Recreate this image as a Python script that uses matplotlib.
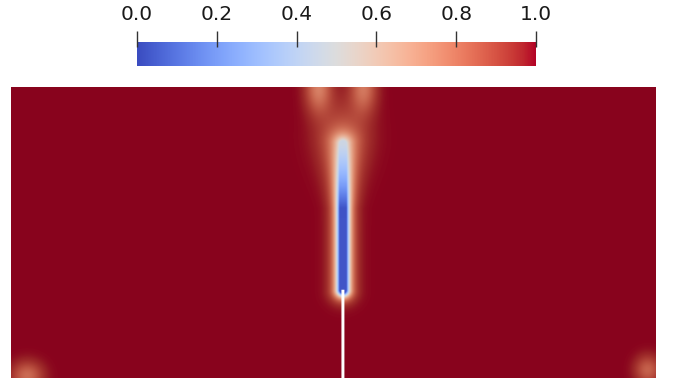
import numpy as np
import matplotlib
matplotlib.use("Agg")
import matplotlib.pyplot as plt

# ------------------------- dados -------------------------
# dominio (largura x altura), unidades arbitrarias
W, H = 2.213, 1.0
PX = H / 291.0          # tamanho de 1 pixel da figura original

# trinca: posicao x, topo do entalhe, topo da banda de dano
crack_x = 331.5 * PX
notch_top = 88 * PX
crack_top = 234 * PX
notch_half = 1.5 * PX
core_half = 3.5 * PX
band_len = 4.5 * PX
band_len_tip = 8.0 * PX
core_damage = 0.98
tip_damage = 0.45       # dano na ponta superior da banda
ramp_start = 170 * PX

# manchas fracas (x, y, sx, sy, amplitude)
blob_x = [331 * PX - 24 * PX, 331 * PX + 21 * PX, 331 * PX, 16 * PX, 636 * PX]
blob_y = [H, H, 245 * PX, 2 * PX, 8 * PX]
blob_sx = [9 * PX, 9 * PX, 18 * PX, 11 * PX, 9 * PX]
blob_sy = [18 * PX, 18 * PX, 26 * PX, 10 * PX, 10 * PX]
blob_amp = [0.22, 0.20, 0.10, 0.18, 0.16]

# barra de cores
cbar_ticks = [0.0, 0.2, 0.4, 0.6, 0.8, 1.0]
cbar_labels = ["0.0", "0.2", "0.4", "0.6", "0.8", "1.0"]
# ---------------------------------------------------------

nx, ny = 1300, 600
xx, yy = np.meshgrid(np.linspace(0, W, nx), np.linspace(0, H, ny))

# distancia ate o segmento da trinca
dy = np.where(yy < notch_top, notch_top - yy, np.where(yy > crack_top, yy - crack_top, 0.0))
r = np.sqrt((xx - crack_x) ** 2 + dy ** 2)
yc = np.clip(yy, notch_top, crack_top)
ramp = np.clip((yc - ramp_start) / (crack_top - ramp_start), 0, 1)
amp = core_damage - (core_damage - tip_damage) * ramp
blen = band_len + (band_len_tip - band_len) * ramp
damage = amp * np.exp(-np.maximum(r - core_half, 0) / blen)

for bx, by, sx, sy, a in zip(blob_x, blob_y, blob_sx, blob_sy, blob_amp):
    damage = damage + a * np.exp(-((xx - bx) / sx) ** 2 / 2 - ((yy - by) / sy) ** 2 / 2)

field = np.clip(1.0 - damage, 0, 1)

cmap = plt.get_cmap("coolwarm")
rgb = cmap(field)[..., :3]
# escurecimento do vermelho como no render original
shade = 1.0 - 0.24 * field ** 3
rgb = rgb * shade[..., None]
alpha = np.ones(field.shape)
alpha[(np.abs(xx - crack_x) < notch_half) & (yy < notch_top)] = 0.0
rgba = np.dstack([rgb, alpha])

fig = plt.figure(figsize=(6.73, 3.85), dpi=100)

ax = fig.add_axes([11 / 673, 7 / 385, 644 / 673, 291 / 385])
ax.imshow(rgba, extent=[0, W, 0, H], origin="lower", aspect="auto", interpolation="bilinear")
ax.set_xlim(0, W)
ax.set_ylim(0, H)
ax.axis("off")

# barra de cores
cax = fig.add_axes([137 / 673, 319 / 385, 399 / 673, 24 / 385])
grad = np.linspace(0, 1, 512)[None, :]
cax.imshow(grad, extent=[0, 1, 0, 1], aspect="auto", cmap=cmap, origin="lower")
cax.set_xlim(0, 1)
cax.set_ylim(0, 1)
cax.axis("off")
cax.vlines(cbar_ticks, 1 - 5 / 24, 1 + 11 / 24, colors="#333333", linewidth=1.0, clip_on=False)
for t, lab in zip(cbar_ticks, cbar_labels):
    cax.text(t, 1 + 27 / 24, lab, ha="center", va="center", fontsize=14.5,
             color="#1a1a1a", family="DejaVu Sans", clip_on=False)

fig.savefig("out.png", dpi=100)
